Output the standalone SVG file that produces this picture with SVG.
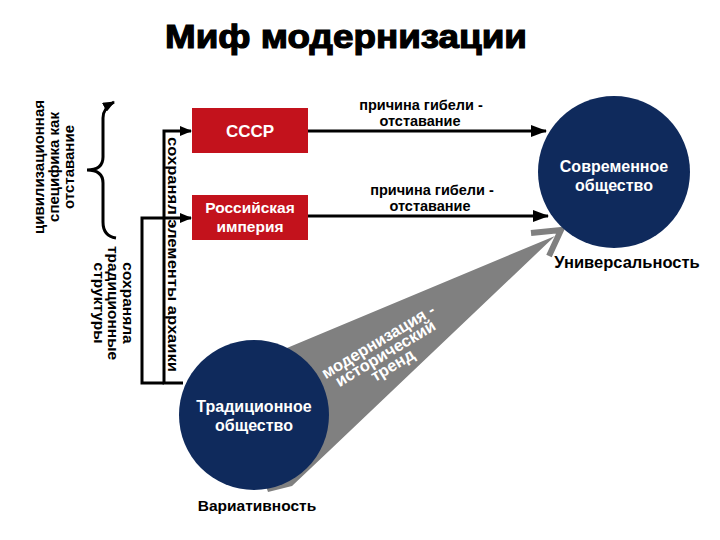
<svg xmlns="http://www.w3.org/2000/svg" width="720" height="540" viewBox="0 0 720 540">
<style>
.t{font-family:"Liberation Sans",Arial,sans-serif;font-weight:bold}
.w{fill:#fff}
.k{fill:#000}
.ln{fill:none;stroke:#000;stroke-width:3}
.box{fill:#c3121c}
.circ{fill:#0f2a5c}
</style>
<defs>
<marker id="ah" markerUnits="userSpaceOnUse" markerWidth="16" markerHeight="12" refX="15" refY="6" orient="auto">
<path d="M0,0 L16,6 L0,12 z" fill="#000"/>
</marker>
<marker id="ahs" markerUnits="userSpaceOnUse" markerWidth="12" markerHeight="10" refX="11" refY="5" orient="auto">
<path d="M0,0 L12,5 L0,10 z" fill="#000"/>
</marker>
</defs>
<rect width="720" height="540" fill="#fff"/>
<text class="t k" x="346" y="48" font-size="34" text-anchor="middle" textLength="362" lengthAdjust="spacingAndGlyphs" stroke="#000" stroke-width="1.2">Миф модернизации</text>

<g id="connectors">
<polygon points="210,380 555,236 330,450 292,486 268,492 250,440" fill="#808080"/>
<polyline points="531,233 561,230 549,256" fill="none" stroke="#808080" stroke-width="6" stroke-linejoin="miter"/>
<line class="ln" x1="308" y1="131" x2="546" y2="131" marker-end="url(#ah)"/>
<line class="ln" x1="308" y1="216" x2="548" y2="216" marker-end="url(#ah)"/>
<polyline class="ln" points="183,383 164,383 164,131 191,131" marker-end="url(#ahs)"/>
<polyline class="ln" points="164,383 142,383 142,218 191,218" marker-end="url(#ahs)"/>
<path class="ln" d="M116,238 Q103,236 103,222 L103,183 Q103,170 87,170 Q103,170 103,157 L103,118 Q103,108 114,102" marker-end="url(#ahs)"/>
</g>

<g id="label-trend">
<g transform="translate(381,346) rotate(-31)" class="t w" font-size="16.5" text-anchor="middle">
<text x="0" y="0">модернизация -</text>
<text x="0" y="14">исторический</text>
<text x="0" y="28">тренд</text>
</g>
</g>

<g id="node-ussr">
<rect class="box" x="192" y="108" width="116" height="45"/>
<text class="t w" x="250" y="137" font-size="17" text-anchor="middle">СССР</text>
</g>
<g id="node-empire">
<rect class="box" x="192" y="195" width="116" height="45"/>
<text class="t w" x="250" y="213" font-size="15.5" text-anchor="middle">Российская</text>
<text class="t w" x="250" y="232" font-size="15.5" text-anchor="middle">империя</text>
</g>
<g id="node-modern">
<circle class="circ" cx="614" cy="172" r="76"/>
<text class="t w" x="614" y="172" font-size="16" text-anchor="middle">Современное</text>
<text class="t w" x="614" y="191" font-size="16" text-anchor="middle">общество</text>
</g>
<g id="node-traditional">
<circle class="circ" cx="254" cy="415" r="75"/>
<text class="t w" x="254" y="412" font-size="16" text-anchor="middle">Традиционное</text>
<text class="t w" x="254" y="431" font-size="16" text-anchor="middle">общество</text>
</g>

<g id="labels" class="t k">
<text x="421" y="109.5" font-size="14.5" text-anchor="middle">причина гибели -</text>
<text x="420" y="126" font-size="14.5" text-anchor="middle">отставание</text>
<text x="432" y="194.5" font-size="14.5" text-anchor="middle">причина гибели -</text>
<text x="430" y="211" font-size="14.5" text-anchor="middle">отставание</text>
<text x="627" y="268" font-size="16.5" text-anchor="middle">Универсальность</text>
<text x="257" y="511" font-size="15.5" text-anchor="middle">Вариативность</text>
<text transform="translate(168,137) rotate(90)" font-size="15" textLength="235" lengthAdjust="spacingAndGlyphs">сохранял элементы архаики</text>
<g transform="translate(130,303) rotate(90)" font-size="15.5" text-anchor="middle">
<text x="0" y="7">сохраняла</text>
<text x="0" y="22">традиционные</text>
<text x="0" y="36">структуры</text>
</g>
<g transform="translate(44,167) rotate(-90)" font-size="15" text-anchor="middle">
<text x="0" y="0">цивилизационная</text>
<text x="0" y="15">специфика как</text>
<text x="0" y="30">отставание</text>
</g>
</g>
</svg>
